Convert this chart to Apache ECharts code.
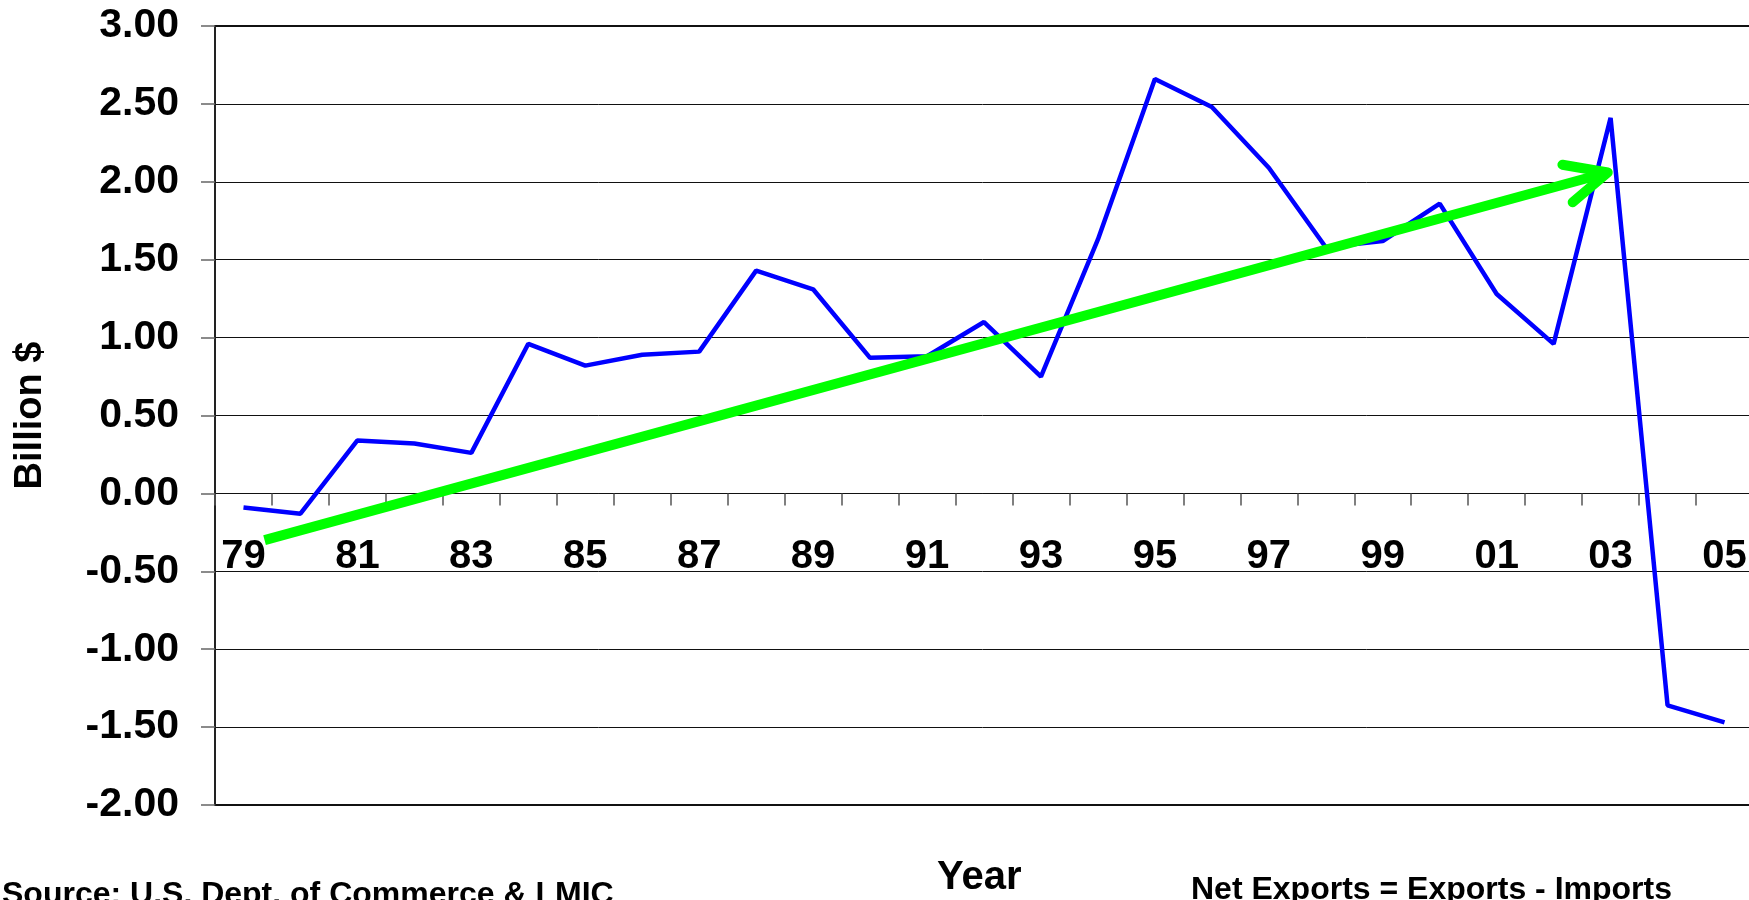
<!DOCTYPE html>
<html>
<head>
<meta charset="utf-8">
<script src="https://cdn.jsdelivr.net/npm/echarts/dist/echarts.min.js"></script>
<style>
  html, body { margin: 0; padding: 0; background: #ffffff; }
  #chart { width: 1749px; height: 900px; }
</style>
</head>
<body>
<div id="chart"></div>
<script>
// Two-digit years, 1979 through 2005
const years = ['79','80','81','82','83','84','85','86','87','88','89','90','91','92','93','94','95','96','97','98','99','00','01','02','03','04','05'];

// Net exports, billion dollars
const netExports = [-0.09, -0.13, 0.34, 0.32, 0.26, 0.96, 0.82, 0.89, 0.91, 1.43, 1.31, 0.87, 0.88, 1.10, 0.75, 1.63, 2.66, 2.48, 2.09, 1.58, 1.62, 1.86, 1.28, 0.96, 2.41, -1.36, -1.47];

// Value axis range and step
const yMin = -2.0;
const yMax = 3.0;
const yStep = 0.5;

// Trend arrow: [category position, value] at its tail and its head
const trendFrom = [0.37, -0.30];
const trendTo = [23.95, 2.06];

const FONT = "'Liberation Sans', Arial, Helvetica, sans-serif";

const GRID_TOP = 26;
const GRID_BOTTOM = 95;
const CHART_H = 900;

const chart = echarts.init(document.getElementById('chart'), null, { renderer: 'canvas' });

// The year axis runs along the zero line: shift it up from the grid bottom by the
// pixel distance between the bottom of the value range and zero.
const plotH = CHART_H - GRID_TOP - GRID_BOTTOM;
const zeroOffset = -plotH * (0 - yMin) / (yMax - yMin);

chart.setOption({
  animation: false,
  backgroundColor: '#ffffff',
  grid: {
    left: 215,
    top: GRID_TOP,
    right: -4,
    bottom: GRID_BOTTOM,
    containLabel: false,
    outerBoundsMode: 'none',
    show: true,
    borderColor: '#111111',
    borderWidth: 2,
    backgroundColor: 'transparent'
  },
  xAxis: [
    {
      type: 'category',
      data: years,
      boundaryGap: true,
      position: 'bottom',
      offset: zeroOffset,
      axisLine: { show: true, onZero: false, lineStyle: { color: '#111111', width: 1 } },
      axisTick: { show: true, interval: 0, length: 12, lineStyle: { color: '#555555', width: 1.5 } },
      axisLabel: {
        interval: 1,
        margin: 44,
        color: '#000000',
        fontFamily: FONT,
        fontWeight: 'bold',
        fontSize: 40
      },
      splitLine: { show: false }
    },
    {
      // helper axis spanning the same bands, used to place the trend arrow
      type: 'value',
      min: -0.5,
      max: years.length - 0.5,
      show: false,
      axisLine: { onZero: false },
      splitLine: { show: false }
    }
  ],
  yAxis: {
    type: 'value',
    min: yMin,
    max: yMax,
    interval: yStep,
    name: 'Billion $',
    nameLocation: 'middle',
    nameGap: 165,
    nameRotate: 90,
    nameTextStyle: {
      color: '#000000',
      fontFamily: FONT,
      fontWeight: 'bold',
      fontSize: 38
    },
    axisLine: { show: true, onZero: false, lineStyle: { color: '#222222', width: 2 } },
    axisTick: { show: true, length: 14, lineStyle: { color: '#666666', width: 1.5 } },
    axisLabel: {
      margin: 36,
      color: '#000000',
      fontFamily: FONT,
      fontWeight: 'bold',
      fontSize: 41,
      formatter: v => v.toFixed(2)
    },
    splitLine: { show: true, lineStyle: { color: '#111111', width: 1 } }
  },
  series: [
    {
      name: 'Net Exports',
      type: 'line',
      data: netExports,
      symbol: 'none',
      lineStyle: { color: '#0000ff', width: 4.5 },
      z: 3
    },
    {
      name: 'Trend',
      type: 'custom',
      xAxisIndex: 1,
      yAxisIndex: 0,
      z: 5,
      encode: { x: [0, 2], y: [1, 3] },
      data: [[trendFrom[0], trendFrom[1], trendTo[0], trendTo[1]]],
      renderItem: function (params, api) {
        const p0 = api.coord([api.value(0), api.value(1)]);
        const p1 = api.coord([api.value(2), api.value(3)]);
        const back = Math.atan2(p0[1] - p1[1], p0[0] - p1[0]);
        const headLen = 46;
        const spread = 25 * Math.PI / 180;
        const h1 = [p1[0] + headLen * Math.cos(back + spread), p1[1] + headLen * Math.sin(back + spread)];
        const h2 = [p1[0] + headLen * Math.cos(back - spread), p1[1] + headLen * Math.sin(back - spread)];
        return {
          type: 'group',
          children: [
            {
              type: 'line',
              shape: { x1: p0[0], y1: p0[1], x2: p1[0], y2: p1[1] },
              style: { stroke: '#00ff00', lineWidth: 10, lineCap: 'butt' }
            },
            {
              type: 'polyline',
              shape: { points: [h1, p1, h2] },
              style: { stroke: '#00ff00', fill: null, lineWidth: 10, lineCap: 'round', lineJoin: 'round' }
            }
          ]
        };
      }
    }
  ],
  graphic: [
    {
      type: 'text',
      left: 937,
      top: 858,
      style: { text: 'Year', fill: '#000000', font: "bold 40px " + FONT }
    },
    {
      type: 'text',
      left: 2,
      top: 879,
      style: { text: 'Source: U.S. Dept. of Commerce & LMIC', fill: '#000000', font: "bold 32px " + FONT }
    },
    {
      type: 'text',
      left: 1191,
      top: 874,
      style: { text: 'Net Exports = Exports - Imports', fill: '#000000', font: "bold 32px " + FONT }
    }
  ]
});
</script>
</body>
</html>
